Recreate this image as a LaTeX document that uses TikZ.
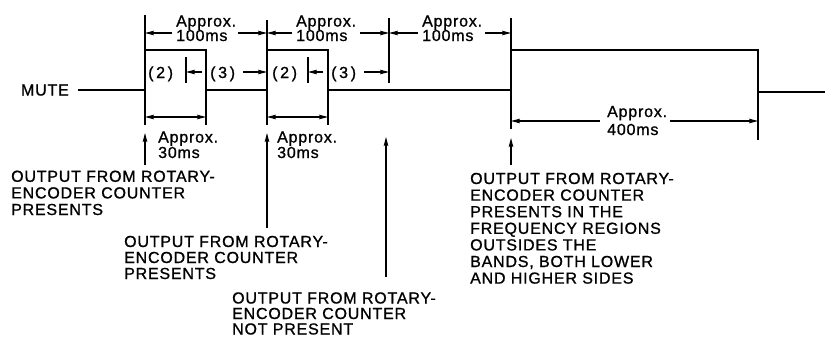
\documentclass[tikz,border=0pt]{standalone}
\usepackage{fontspec}
\setmainfont{Liberation Sans}[LetterSpace=5,FakeBold=1]
\usetikzlibrary{arrows.meta}
\begin{document}
\begin{tikzpicture}[x=1pt,y=-1pt,
  wave/.style={line width=2.8pt, line join=miter},
  ext/.style={line width=1.1pt},
  tip/.tip={Stealth[length=9pt,width=4.6pt,inset=1.5pt]},
  dim/.style={line width=1.1pt, -tip},
  dimboth/.style={line width=1.1pt, tip-tip},
  txt/.style={inner sep=0pt, anchor=base west, align=left, font=\fontsize{16}{16.6}\selectfont},
  txtA/.style={txt, font=\fontsize{16}{14.5}\selectfont},
  txtB/.style={txt, font=\fontsize{16}{18}\selectfont},
  txtC/.style={txt, font=\fontsize{16}{15.5}\selectfont},
  txtD/.style={txt, font=\fontsize{16}{16}\selectfont},
  ]
\useasboundingbox (0,0) rectangle (825,338);

% waveform
\node[txt, anchor=base east] (mute) at (69,95.5) {MUTE};
\coordinate (w0) at (78,90);
\coordinate (r1) at (145,50);
\coordinate (f1) at (206,50);
\coordinate (r2) at (267,50);
\coordinate (f2) at (328,50);
\coordinate (r3) at (511,50);
\coordinate (f3) at (758,50);
\coordinate (wend) at (826,92);
\draw[wave] (w0) -- (r1 |- w0) -- (r1) -- (f1) -- (f1 |- w0) -- (r2 |- w0) -- (r2) -- (f2)
  -- (f2 |- w0) -- (r3 |- w0) -- (r3) -- (f3) -- (f3 |- wend) -- (wend);

% top dimensions
\draw[ext] (145,15) -- (r1);
\draw[ext] (267,20) -- (r2);
\draw[ext] (389,18) -- (389,83);
\draw[ext] (511,18) -- (r3);
\draw[dim] (172,33) -- (145,33);
\draw[dim] (238,33) -- (267,33);
\draw[dim] (292,33) -- (267,33);
\draw[dim] (360,33) -- (389,33);
\draw[dim] (418,33) -- (389,33);
\draw[dim] (485,33) -- (511,33);
\node[txtA] (a1) at (176,41) {Approx.\\100ms};
\node[txtA] (a2) at (296,41) {Approx.\\100ms};
\node[txtA] (a3) at (422,41) {Approx.\\100ms};

% (2) / (3)
\node[txt] (p2a) at (148,78) {(\,2\,)};
\node[txt] (p3a) at (210,78) {(\,3\,)};
\node[txt] (p2b) at (272,78) {(\,2\,)};
\node[txt] (p3b) at (331,78) {(\,3\,)};
\draw[ext] (186,57) -- (186,83);
\draw[dim] (202,72) -- (186,72);
\draw[dim] (243,72) -- (267,72);
\draw[ext] (308,57) -- (308,83);
\draw[dim] (323,72) -- (308,72);
\draw[dim] (364,72) -- (389,72);

% bottom 30ms dimensions
\draw[ext] (145,90) -- (145,125);
\draw[ext] (206,90) -- (206,125);
\draw[dimboth] (145,117) -- (206,117);
\node[txtC] (b1) at (158,158) {Approx.\\30ms};
\draw[ext] (267,90) -- (267,125);
\draw[ext] (328,90) -- (328,125);
\draw[dimboth] (267,117) -- (328,117);
\node[txtC] (b2) at (277,158) {Approx.\\30ms};

% 400ms dimension
\draw[ext] (511,90) -- (511,129);
\draw[ext] (758,92) -- (758,140);
\draw[dim] (600,121) -- (511,121);
\draw[dim] (670,121) -- (758,121);
\node[txtB] (b3) at (607,135) {Approx.\\400ms};

% explanatory texts and pointers
\node[txt] (t1) at (11,215) {OUTPUT FROM ROTARY-\\ENCODER COUNTER\\PRESENTS};
\node[txtD] (t2) at (124,279) {OUTPUT FROM ROTARY-\\ENCODER COUNTER\\PRESENTS};
\node[txtC] (t3) at (232,334.5) {OUTPUT FROM ROTARY-\\ENCODER COUNTER\\NOT PRESENT};
\node[txt] (t4) at (470,283.6) {OUTPUT FROM ROTARY-\\ENCODER COUNTER\\PRESENTS IN THE\\FREQUENCY REGIONS\\OUTSIDES THE\\BANDS, BOTH LOWER\\AND HIGHER SIDES};

\coordinate (u1) at (145,165);
\coordinate (u2) at (267,228);
\coordinate (u3) at (386,277);
\coordinate (u4) at (511,165);
\draw[dim] (u1) -- (145,133);
\draw[dim] (u2) -- (267,133);
\draw[dim] (u3) -- (386,137);
\draw[dim] (u4) -- (511,138);
\end{tikzpicture}
\end{document}
